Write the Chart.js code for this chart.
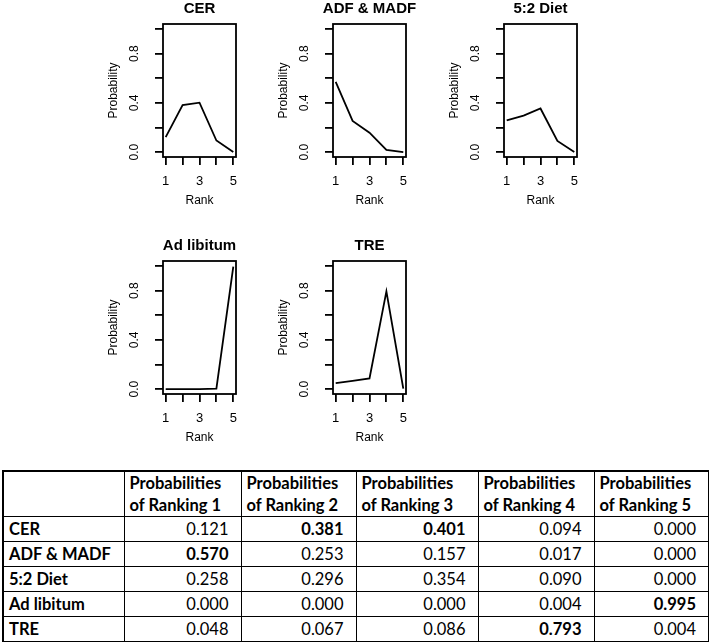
<!DOCTYPE html>
<html>
<head>
<meta charset="utf-8">
<title>Rank probabilities</title>
<script src="https://cdn.jsdelivr.net/npm/chart.js@4.4.1/dist/chart.umd.min.js"></script>
<style>
  body { margin: 0; background: #fff; width: 709px; height: 642px; position: relative; overflow: hidden; }
  canvas { position: absolute; }
  table { position: absolute; left: 2px; top: 470px; width: 706px; border-collapse: collapse; table-layout: fixed;
          font-family: Lato, "Open Sans", sans-serif; font-size: 16.5px; color: #000; border: 2px solid #000; }
  th, td { border: 1px solid #000; padding: 0 12px 0 5px; height: 24px; line-height: 20px; white-space: nowrap; }
  th { font-weight: bold; text-align: left; line-height: 22px; height: 44px; }
  td { text-align: right; }
  td.name { text-align: left; font-weight: bold; padding-right: 2px; }
  td.best { font-weight: bold; }
</style>
</head>
<body>
<table id="tbl"></table>
<script>
// treatments and their rank probabilities (rank 1 .. 5)
const treatments = ["CER", "ADF & MADF", "5:2 Diet", "Ad libitum", "TRE"];
const ranks = [1, 2, 3, 4, 5];
const probCER = [0.121, 0.381, 0.401, 0.094, 0.000];
const probADF = [0.570, 0.253, 0.157, 0.017, 0.000];
const prob52 = [0.258, 0.296, 0.354, 0.090, 0.000];
const probAdLib = [0.000, 0.000, 0.000, 0.004, 0.995];
const probTRE = [0.048, 0.067, 0.086, 0.793, 0.004];
const allProbs = [probCER, probADF, prob52, probAdLib, probTRE];

// axis ticks, and which of them get a label
const rankTicks = [1, 2, 3, 4, 5];
const rankLabels = [1, 3, 5];
const probTicks = [0, 0.2, 0.4, 0.6, 0.8, 1.0];
const probLabels = [0, 0.4, 0.8];

// where each small plot box sits on the page
const boxLeft = [163, 333, 504, 163, 333];
const boxTop = [24, 24, 24, 261, 261];
const boxW = 73, boxH = 133;
const yAxisW = 57, xAxisH = 51, titleH = 24;

Chart.defaults.font.family = "'Liberation Sans', Arial, sans-serif";
Chart.defaults.color = "#000";

// R style frame around the plot region
const framePlugin = {
  id: "frame",
  afterDraw(chart) {
    const a = chart.chartArea;
    const ctx = chart.ctx;
    ctx.save();
    ctx.strokeStyle = "#000";
    ctx.lineWidth = 1.8;
    ctx.strokeRect(a.left, a.top, a.right - a.left, a.bottom - a.top);
    ctx.restore();
  }
};

treatments.forEach(function (name, i) {
  let canvas = document.createElement("canvas");
  canvas.width = yAxisW * 2 + boxW;
  canvas.height = titleH + boxH + xAxisH;
  canvas.style.left = (boxLeft[i] - yAxisW) + "px";
  canvas.style.top = (boxTop[i] - titleH) + "px";
  document.body.appendChild(canvas);

  let points = ranks.map((r, k) => ({ x: r, y: allProbs[i][k] }));

  new Chart(canvas, {
    type: "line",
    data: {
      datasets: [{
        data: points,
        borderColor: "#000",
        borderWidth: 1.8,
        pointRadius: 0,
        tension: 0,
        fill: false
      }]
    },
    options: {
      responsive: false,
      animation: false,
      devicePixelRatio: 1,
      layout: { padding: 0, autoPadding: false },
      plugins: {
        legend: { display: false },
        tooltip: { enabled: false },
        title: {
          display: true,
          text: name,
          color: "#000",
          font: { size: 15, weight: "bold" },
          padding: { top: 0, bottom: 6 }
        }
      },
      scales: {
        x: {
          type: "linear",
          min: 0.84,
          max: 5.16,
          bounds: "data",
          afterBuildTicks: s => { s.ticks = rankTicks.map(v => ({ value: v })); },
          afterFit: s => { s.height = xAxisH; },
          ticks: {
            autoSkip: false,
            maxRotation: 0,
            padding: 9,
            font: { size: 13 },
            color: "#000",
            callback: v => rankLabels.includes(v) ? String(v) : ""
          },
          grid: { drawOnChartArea: false, drawTicks: true, tickLength: 8, color: "#000", lineWidth: 1.8 },
          border: { display: false },
          title: { display: true, text: "Rank", font: { size: 12 }, color: "#000", padding: 0 }
        },
        y: {
          type: "linear",
          min: -0.04,
          max: 1.04,
          bounds: "data",
          afterBuildTicks: s => { s.ticks = probTicks.map(v => ({ value: v })); },
          afterFit: s => { s.width = yAxisW; },
          ticks: {
            autoSkip: false,
            minRotation: 90,
            maxRotation: 90,
            crossAlign: "center",
            padding: 12,
            font: { size: 12 },
            color: "#000",
            callback: v => probLabels.includes(v) ? v.toFixed(1) : ""
          },
          grid: { drawOnChartArea: false, drawTicks: true, tickLength: 8, color: "#000", lineWidth: 1.8 },
          border: { display: false },
          title: { display: true, text: "Probability", font: { size: 12 }, color: "#000", padding: 0 }
        },
        // empty right margin so the title stays centred over the box
        yRight: {
          position: "right",
          afterFit: s => { s.width = yAxisW; },
          ticks: { display: false },
          grid: { display: false },
          border: { display: false }
        }
      }
    },
    plugins: [framePlugin]
  });
});

// table of the same probabilities, column maximum in bold
const colWidths = [121, 117, 115, 122, 116, 115];
let tbl = document.getElementById("tbl");
let html = "<colgroup>" + colWidths.map(w => '<col style="width:' + w + 'px">').join("") + "</colgroup>";
html += "<tr><th></th>" + ranks.map(r => "<th>Probabilities<br>of Ranking " + r + "</th>").join("") + "</tr>";
let colMax = ranks.map((r, k) => Math.max(...allProbs.map(p => p[k])));
treatments.forEach(function (name, i) {
  html += '<tr><td class="name">' + name.replace("&", "&amp;") + "</td>";
  allProbs[i].forEach(function (v, k) {
    html += "<td" + (v === colMax[k] ? ' class="best"' : "") + ">" + v.toFixed(3) + "</td>";
  });
  html += "</tr>";
});
tbl.innerHTML = html;
</script>
</body>
</html>
